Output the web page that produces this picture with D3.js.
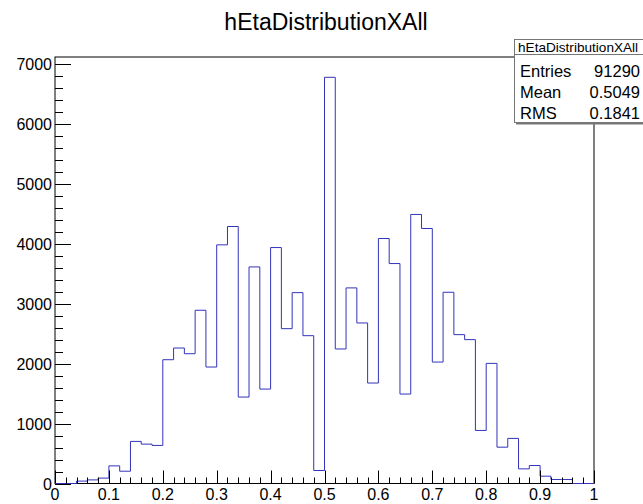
<!DOCTYPE html>
<html>
<head>
<meta charset="utf-8">
<script src="https://cdn.jsdelivr.net/npm/d3@7"></script>
<style>
  body { margin: 0; background: #fff; }
  text { font-family: "Liberation Sans", Arial, sans-serif; }
</style>
</head>
<body>
<div id="chart"></div>
<script>
// histogram bins, 50 bins from 0 to 1
const binLow = 0, binHigh = 1, binCount = 50;
const counts = [
  0, 0, 40, 60, 90, 294, 205, 702, 657, 635,
  2065, 2260, 2165, 2890, 1943, 3981, 4287, 1442, 3613, 1575,
  3936, 2583, 3184, 2466, 217, 6776, 2244, 3263, 2678, 1676,
  4087, 3669, 1492, 4488, 4254, 2026, 3190, 2483, 2400, 885,
  2004, 606, 752, 244, 300, 122, 67, 67, 0, 0
];
const xTicks = [0, 0.1, 0.2, 0.3, 0.4, 0.5, 0.6, 0.7, 0.8, 0.9, 1];
const yTicks = [0, 1000, 2000, 3000, 4000, 5000, 6000, 7000];
const statNames = ["Entries", "Mean", "RMS"];
const statValues = ["91290", "0.5049", "0.1841"];
const title = "hEtaDistributionXAll";

const W = 643, H = 504;
const frame = { left: 55, right: 594, top: 57, bottom: 483.5 };

const svg = d3.select('#chart').append('svg')
  .attr('width', W).attr('height', H);

const x = d3.scaleLinear().domain([binLow, binHigh]).range([frame.left, frame.right]);
const y = d3.scaleLinear().domain([0, d3.max(counts) * 1.05]).range([frame.bottom, frame.top]);

// frame
svg.append('rect')
  .attr('x', frame.left).attr('y', frame.top)
  .attr('width', frame.right - frame.left).attr('height', frame.bottom - frame.top)
  .attr('fill', 'none').attr('stroke', '#000').attr('stroke-width', 1);

// histogram outline as a step path
const bw = (binHigh - binLow) / binCount;
let pts = [[x(binLow), y(0)]];
counts.forEach((c, i) => {
  pts.push([x(binLow + i * bw), y(c)]);
  pts.push([x(binLow + (i + 1) * bw), y(c)]);
});
pts.push([x(binHigh), y(0)]);
svg.append('path')
  .attr('d', d3.line()(pts))
  .attr('fill', 'none')
  .attr('stroke', '#3333bb')
  .attr('stroke-width', 1);

// y axis ticks
const yMinor = d3.range(0, 7200, 200);
svg.selectAll('.ymin').data(yMinor).enter().append('line')
  .attr('x1', frame.left).attr('x2', d => frame.left + (d % 1000 === 0 ? 16 : 8))
  .attr('y1', d => Math.round(y(d)) + 0.5).attr('y2', d => Math.round(y(d)) + 0.5)
  .attr('stroke', '#000');
svg.selectAll('.ylab').data(yTicks).enter().append('text')
  .attr('x', frame.left - 3).attr('y', d => y(d) + 6)
  .attr('text-anchor', 'end').attr('font-size', 16)
  .text(d => d);

// x axis ticks
const xMinor = d3.range(0, 51).map(i => i / 50);
svg.selectAll('.xmin').data(xMinor).enter().append('line')
  .attr('x1', d => Math.round(x(d)) + 0.5).attr('x2', d => Math.round(x(d)) + 0.5)
  .attr('y1', frame.bottom).attr('y2', (d, i) => frame.bottom - (i % 5 === 0 ? 13 : 6))
  .attr('stroke', '#000');
svg.selectAll('.xlab').data(xTicks).enter().append('text')
  .attr('x', d => x(d)).attr('y', 500)
  .attr('text-anchor', 'middle').attr('font-size', 16)
  .text(d => d);

// title
svg.append('text')
  .attr('x', 326).attr('y', 29.5)
  .attr('text-anchor', 'middle').attr('font-size', 23)
  .text(title);

// stats box
const box = { x: 514, y: 39.5, w: 134, h: 83 };
svg.append('rect')
  .attr('x', box.x + 2).attr('y', box.y + 2).attr('width', box.w).attr('height', box.h)
  .attr('fill', '#777');
svg.append('rect')
  .attr('x', box.x + 0.5).attr('y', box.y).attr('width', box.w).attr('height', box.h)
  .attr('fill', '#fff').attr('stroke', '#777');
svg.append('line')
  .attr('x1', box.x).attr('x2', box.x + box.w)
  .attr('y1', 54.5).attr('y2', 54.5).attr('stroke', '#777');
svg.append('text')
  .attr('x', 518).attr('y', 51.5).attr('font-size', 13.6)
  .text(title);
statNames.forEach((n, i) => {
  svg.append('text').attr('x', 520).attr('y', 77 + i * 21.2)
    .attr('font-size', 16.5).text(n);
  svg.append('text').attr('x', 640).attr('y', 77 + i * 21.2)
    .attr('font-size', 16.5).attr('text-anchor', 'end').text(statValues[i]);
});
</script>
</body>
</html>
